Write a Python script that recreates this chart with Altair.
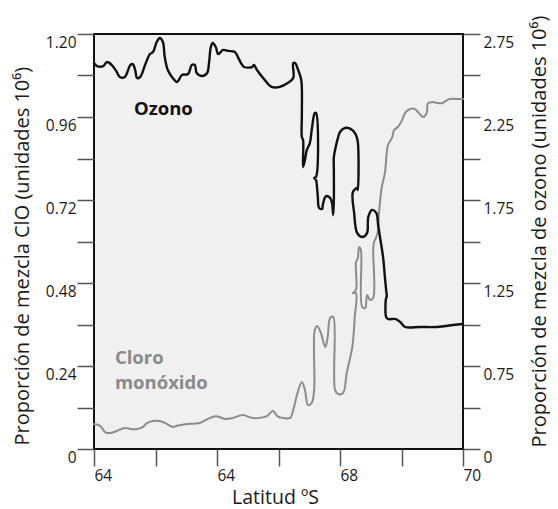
import altair as alt
import pandas as pd

# ---------------- data ----------------
# Ozone mixing ratio (right axis units), ordered along the flight track
oz_lat = [64.00, 64.05, 64.15, 64.21, 64.29, 64.37, 64.42, 64.50, 64.59, 64.63,
          64.67, 64.70, 64.75, 64.83, 64.91, 64.96, 65.02, 65.07, 65.12, 65.15,
          65.20, 65.28, 65.35, 65.38, 65.43, 65.53, 65.59, 65.64, 65.67, 65.76,
          65.84, 65.87, 65.90, 65.93, 65.98, 66.02, 66.10, 66.18, 66.29, 66.34,
          66.39, 66.44, 66.57, 66.60, 66.65, 66.75, 66.89, 67.02, 67.15, 67.24,
          67.24, 67.27, 67.32, 67.37, 67.38, 67.38, 67.40, 67.40, 67.43, 67.46,
          67.51, 67.54, 67.59, 67.61, 67.61, 67.58, 67.61, 67.63, 67.64, 67.66,
          67.71, 67.72, 67.76, 67.79, 67.84, 67.87, 67.89, 67.90, 67.90, 67.90,
          67.93, 67.97, 68.00, 68.08, 68.20, 68.26, 68.29, 68.29, 68.28, 68.21,
          68.23, 68.28, 68.37, 68.44, 68.46, 68.52, 68.59, 68.62, 68.65, 68.70,
          68.73, 68.75, 68.76, 68.75, 68.75, 68.78, 68.91, 68.98, 69.06, 69.30,
          69.58, 69.84, 70.00]
oz_val = [2.575, 2.557, 2.557, 2.581, 2.563, 2.521, 2.491, 2.491, 2.563, 2.569,
          2.533, 2.485, 2.491, 2.563, 2.629, 2.642, 2.702, 2.726, 2.702, 2.611,
          2.533, 2.485, 2.461, 2.473, 2.503, 2.509, 2.563, 2.563, 2.515, 2.497,
          2.515, 2.575, 2.672, 2.696, 2.672, 2.629, 2.654, 2.648, 2.642, 2.611,
          2.575, 2.551, 2.551, 2.563, 2.533, 2.485, 2.431, 2.431, 2.455, 2.485,
          2.575, 2.575, 2.533, 2.473, 2.274, 2.129, 2.111, 1.949, 1.991, 2.051,
          2.093, 2.172, 2.274, 2.274, 1.889, 1.883, 1.870, 1.810, 1.768, 1.702,
          1.696, 1.720, 1.768, 1.774, 1.762, 1.732, 1.660, 1.750, 1.931, 2.009,
          2.069, 2.129, 2.160, 2.184, 2.172, 2.142, 2.099, 1.810, 1.822, 1.798,
          1.672, 1.551, 1.527, 1.551, 1.648, 1.690, 1.672, 1.599, 1.527, 1.407,
          1.286, 1.208, 1.166, 1.160, 1.045, 1.033, 1.033, 1.015, 0.985, 0.985,
          0.985, 0.997, 1.003]

# Chlorine monoxide mixing ratio (left axis units)
clo_lat = [64.00, 64.10, 64.18, 64.26, 64.37, 64.50, 64.59, 64.70, 64.80, 64.86,
           64.96, 65.07, 65.19, 65.28, 65.35, 65.51, 65.72, 65.85, 65.98, 66.13,
           66.26, 66.42, 66.57, 66.70, 66.81, 66.91, 66.98, 67.06, 67.19, 67.24,
           67.30, 67.38, 67.43, 67.48, 67.54, 67.58, 67.59, 67.63, 67.69, 67.76,
           67.80, 67.84, 67.89, 67.92, 67.97, 68.05, 68.11, 68.20, 68.24, 68.26,
           68.21, 68.26, 68.26, 68.29, 68.31, 68.34, 68.36, 68.41, 68.44, 68.49,
           68.54, 68.54, 68.55, 68.59, 68.62, 68.63, 68.65, 68.68, 68.73, 68.76,
           68.78, 68.85, 68.88, 68.94, 69.01, 69.06, 69.14, 69.22, 69.28, 69.35,
           69.41, 69.43, 69.50, 69.66, 69.74, 69.79, 69.95, 70.00]
clo_val = [0.072, 0.067, 0.049, 0.046, 0.052, 0.061, 0.058, 0.058, 0.064, 0.075,
           0.081, 0.081, 0.072, 0.064, 0.067, 0.072, 0.075, 0.087, 0.095, 0.087,
           0.090, 0.098, 0.090, 0.090, 0.095, 0.110, 0.095, 0.090, 0.090, 0.113,
           0.156, 0.194, 0.171, 0.127, 0.133, 0.171, 0.344, 0.356, 0.335, 0.295,
           0.324, 0.379, 0.382, 0.171, 0.159, 0.162, 0.220, 0.295, 0.382, 0.451,
           0.451, 0.460, 0.541, 0.552, 0.584, 0.575, 0.411, 0.408, 0.445, 0.431,
           0.437, 0.575, 0.596, 0.613, 0.633, 0.671, 0.714, 0.758, 0.798, 0.856,
           0.879, 0.902, 0.922, 0.931, 0.951, 0.972, 0.983, 0.983, 0.972, 0.960,
           0.972, 1.000, 1.003, 1.000, 1.009, 1.012, 1.012, 1.012]

# axis ticks / labels
lat_ticks = [64, 65, 66, 67, 68, 69, 70]
lat_labels = {64: "64", 66: "64", 68: "68", 70: "70"}
clo_ticks = [round(0.12 * k, 2) for k in range(11)]
oz_ticks = [round(0.25 * k, 2) for k in range(1, 12)]

# in-plot annotations
note_text = ["Ozono", "Cloro\nmonóxido"]
note_lat = [64.65, 64.34]
note_clo = [0.967, 0.246]
note_color = ["#111111", "#8a8a8a"]

FONT = "Open Sans"
INK = "#1a1a1a"

oz_df = pd.DataFrame({"lat": oz_lat, "oz": oz_val, "i": range(len(oz_lat))})
clo_df = pd.DataFrame({"lat": clo_lat, "clo": clo_val, "i": range(len(clo_lat))})
note_df = pd.DataFrame({"lat": note_lat, "clo": note_clo, "txt": note_text, "col": note_color})

x_expr = " : ".join(
    [f"datum.value == {k} ? '{v}'" for k, v in lat_labels.items()]
) + " : ''"

x_enc = alt.X(
    "lat:Q",
    scale=alt.Scale(domain=[64, 70], nice=False, zero=False),
    axis=alt.Axis(
        values=lat_ticks, labelExpr=x_expr, title="Latitud ºS",
        tickSize=17, labelAlign="left", labelBaseline="top", labelPadding=2,
        labelFlush=False, labelOverlap=False, labelFontSize=15.5,
        titleFontSize=19.5, titleFontWeight="normal",
        titleX=181, titleY=54, titleAlign="center", titleBaseline="alphabetic",
    ),
)

clo_expr = ("round(datum.value / 0.12) % 2 == 0 ? "
            "(datum.value == 0 ? '0' : format(datum.value, '.2f')) : ''")
y_clo = alt.Y(
    "clo:Q",
    scale=alt.Scale(domain=[0, 1.2], nice=False, zero=False),
    axis=alt.Axis(
        orient="left", values=clo_ticks, labelExpr=clo_expr,
        title="Proporción de mezcla ClO (unidades 10⁶)",
        tickSize=17, labelPadding=1, labelOffset=8.5, labelBaseline="middle",
        labelOverlap=False, labelFontSize=15.5,
        titleFontSize=20, titleFontWeight="normal", titleAngle=270,
        titleX=-65.5, titleY=411, titleAlign="left", titleBaseline="alphabetic",
    ),
)

oz_expr = ("datum.value < 0.3 ? '0' : "
           "(round(datum.value * 4) % 2 == 1 ? format(datum.value, '.2f') : '')")
y_oz = alt.Y(
    "oz:Q",
    scale=alt.Scale(domain=[0.25, 2.75], nice=False, zero=False),
    axis=alt.Axis(
        orient="right", values=oz_ticks, labelExpr=oz_expr,
        title="Proporción de mezcla de ozono (unidades 10⁶)",
        tickSize=17, labelPadding=3, labelOffset=8.5, labelBaseline="middle",
        labelOverlap=False, labelFontSize=15.5,
        titleFontSize=20, titleFontWeight="normal", titleAngle=270,
        titleX=82, titleY=413, titleAlign="left", titleBaseline="alphabetic",
    ),
)

clo_line = alt.Chart(clo_df).mark_line(
    color="#8c8c8c", strokeWidth=2, interpolate="catmull-rom",
    strokeJoin="round", strokeCap="round",
).encode(x=x_enc, y=y_clo, order="i:Q")

notes = alt.Chart(note_df).mark_text(
    align="left", baseline="alphabetic", font=FONT, fontSize=18.5, fontWeight="bold",
    lineBreak="\n", lineHeight=25.5,
).encode(x=x_enc, y=y_clo, text="txt:N", color=alt.Color("col:N", scale=None))

oz_line = alt.Chart(oz_df).mark_line(
    color="#111111", strokeWidth=2.4, interpolate="catmull-rom",
    strokeJoin="round", strokeCap="round",
).encode(x=x_enc, y=y_oz, order="i:Q")

left = alt.layer(clo_line, notes)

chart = (
    alt.layer(left, oz_line)
    .resolve_scale(y="independent")
    .properties(
        width=369, height=415,
        padding={"left": 86, "top": 26, "right": 87, "bottom": 64},
        autosize=alt.AutoSizeParams(type="none"),
    )
    .configure_view(fill="#f0f0f0", stroke="#111111", strokeWidth=2)
    .configure_axis(
        labelFont=FONT, titleFont=FONT, labelColor=INK, titleColor=INK,
        tickColor="#555555", tickWidth=1.5, grid=False, domain=False,
    )
)

chart.save("out.html", embed_options={"renderer": "svg", "actions": False})
